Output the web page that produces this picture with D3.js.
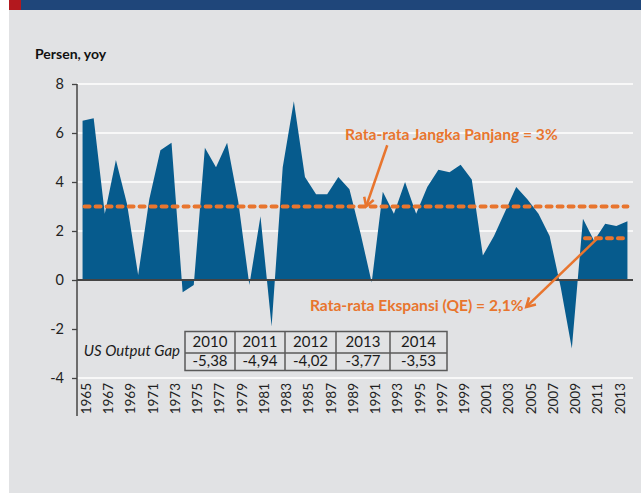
<!DOCTYPE html>
<html>
<head>
<meta charset="utf-8">
<script src="https://cdn.jsdelivr.net/npm/d3@7"></script>
<style>
    body { margin: 0; background: #fff; }
    svg { display: block; font-family: Lato, "Open Sans", sans-serif; }
</style>
</head>
<body>
<div id="chart"></div>
<script>
// US real GDP growth, yoy (%)
const years = d3.range(1965, 2015);
const growth = [
    6.5, 6.6, 2.7, 4.9, 3.1, 0.2, 3.3, 5.3, 5.6, -0.5,
    -0.2, 5.4, 4.6, 5.6, 3.2, -0.2, 2.6, -1.9, 4.6, 7.3,
    4.2, 3.5, 3.5, 4.2, 3.7, 1.9, -0.1, 3.6, 2.7, 4.0,
    2.7, 3.8, 4.5, 4.4, 4.7, 4.1, 1.0, 1.8, 2.8, 3.8,
    3.3, 2.7, 1.8, -0.3, -2.8, 2.5, 1.6, 2.3, 2.2, 2.4
];
const yTicks = [-4, -2, 0, 2, 4, 6, 8];
const gridTicks = [2, 4, 6, 8, -4];
const xTickYears = d3.range(1965, 2015, 2);

// averages
const longRunAvg = 3;
const longRunLabel = 'Rata-rata Jangka Panjang = 3%';
const qeLevel = 1.7;          // level the QE average line is drawn at
const qeYears = [2010, 2014];
const qeLabel = 'Rata-rata Ekspansi (QE) = 2,1%';

// output gap table
const gapYears = ['2010', '2011', '2012', '2013', '2014'];
const gapValues = ['-5,38', '-4,94', '-4,02', '-3,77', '-3,53'];
const gapTitle = 'US Output Gap';

const width = 641, height = 493;
const plot = { left: 77, right: 633, top: 84, bottom: 378 };
const blue = '#065b8d', orange = '#e8752e', axisGrey = '#444';

const svg = d3.select('#chart').append('svg')
    .attr('width', width)
    .attr('height', height);

// frame
svg.append('rect').attr('x', 9).attr('y', 10).attr('width', width - 9).attr('height', height - 10).attr('fill', '#e1e2e4');
svg.append('rect').attr('x', 21).attr('y', 0).attr('width', width - 21).attr('height', 10).attr('fill', '#1f467a');
svg.append('rect').attr('x', 9).attr('y', 0).attr('width', 12).attr('height', 10).attr('fill', '#b3181e');

// scales
const x = d3.scaleLinear().domain([years[0] - 0.5, years[years.length - 1] + 0.5]).range([plot.left, plot.right]);
const y = d3.scaleLinear().domain([-4, 8]).range([plot.bottom, plot.top]);

// gridlines
svg.append('g').selectAll('line')
    .data(gridTicks)
    .join('line')
    .attr('x1', plot.left).attr('x2', plot.right)
    .attr('y1', d => y(d)).attr('y2', d => y(d))
    .attr('stroke', '#fff')
    .attr('stroke-width', 1.6);

// area
const area = d3.area()
    .x((d, i) => x(years[i]))
    .y0(y(0))
    .y1(d => y(d));
svg.append('path')
    .datum(growth)
    .attr('d', area)
    .attr('fill', blue);

// zero line
svg.append('line')
    .attr('x1', plot.left).attr('x2', plot.right)
    .attr('y1', y(0)).attr('y2', y(0))
    .attr('stroke', axisGrey).attr('stroke-width', 2);

// y axis
const yAxis = svg.append('g')
    .attr('transform', `translate(${plot.left},0)`)
    .call(d3.axisLeft(y).tickValues(yTicks).tickSize(5).tickPadding(8).tickFormat(d => d));
yAxis.select('.domain').remove();
yAxis.selectAll('.tick line').attr('stroke', axisGrey).attr('stroke-width', 1.3);
yAxis.selectAll('.tick text')
    .attr('font-family', 'Lato, sans-serif')
    .attr('font-size', 14.5)
    .attr('fill', '#222');
svg.append('line')
    .attr('x1', plot.left).attr('x2', plot.left)
    .attr('y1', plot.top).attr('y2', 416)
    .attr('stroke', axisGrey).attr('stroke-width', 1.5);

// x labels (rotated)
svg.append('g').selectAll('text')
    .data(xTickYears)
    .join('text')
    .attr('transform', d => `translate(${x(d) + 3.5},383) rotate(-90)`)
    .attr('dy', '0.36em')
    .attr('text-anchor', 'end')
    .attr('font-size', 13.5)
    .attr('fill', '#222')
    .text(d => d);

// y title
svg.append('text')
    .attr('x', 35).attr('y', 59)
    .attr('font-size', 14)
    .attr('font-weight', 'bold')
    .attr('fill', '#111')
    .text('Persen, yoy');

// average lines
const avgLines = [
    { y0: longRunAvg, from: years[0], to: years[years.length - 1] },
    { y0: qeLevel, from: qeYears[0], to: qeYears[1] }
];
svg.append('g').selectAll('line')
    .data(avgLines)
    .join('line')
    .attr('x1', d => x(d.from) + 2).attr('x2', d => x(d.to))
    .attr('y1', d => y(d.y0)).attr('y2', d => y(d.y0))
    .attr('stroke', orange)
    .attr('stroke-width', 4)
    .attr('stroke-dasharray', '5 6')
    .attr('stroke-linecap', 'round');

// annotations (positions in data coords: [year, value])
const notes = [
    { text: longRunLabel, at: [1988.6, 5.72], from: [1992.4, 5.5], to: [1990.5, 3.0] },
    { text: qeLabel, at: [1985.45, -1.27], from: [2011.3, 1.7], to: [2004.9, -1.1] }
];
notes.forEach(n => {
    svg.append('text')
        .attr('x', x(n.at[0])).attr('y', y(n.at[1]))
        .attr('font-size', 15.6)
        .attr('font-weight', 'bold')
        .attr('fill', orange)
        .text(n.text);

    const x1 = x(n.from[0]), y1 = y(n.from[1]);
    const x2 = x(n.to[0]), y2 = y(n.to[1]);
    const ang = Math.atan2(y2 - y1, x2 - x1);
    const head = 10, spread = Math.PI / 6;
    svg.append('line')
        .attr('x1', x1).attr('y1', y1).attr('x2', x2).attr('y2', y2)
        .attr('stroke', orange).attr('stroke-width', 2.5);
    svg.append('path')
        .attr('d', `M${x2 - head * Math.cos(ang - spread)},${y2 - head * Math.sin(ang - spread)}` +
            `L${x2},${y2}` +
            `L${x2 - head * Math.cos(ang + spread)},${y2 - head * Math.sin(ang + spread)}`)
        .attr('fill', 'none')
        .attr('stroke', orange)
        .attr('stroke-width', 2.5)
        .attr('stroke-linejoin', 'miter');
});

// output gap table
const table = { left: 185, top: 331.5, colW: [50, 50, 51, 54, 57], rowH: [21.5, 17.5] };
const colX = [table.left];
table.colW.forEach(w => colX.push(colX[colX.length - 1] + w));
const tableRight = colX[colX.length - 1];
const tableBottom = table.top + table.rowH[0] + table.rowH[1];
const tg = svg.append('g');

tg.append('rect')
    .attr('x', table.left).attr('y', table.top)
    .attr('width', tableRight - table.left).attr('height', tableBottom - table.top)
    .attr('fill', 'none').attr('stroke', '#5a5a5a').attr('stroke-width', 1.5);
tg.append('line')
    .attr('x1', table.left).attr('x2', tableRight)
    .attr('y1', table.top + table.rowH[0]).attr('y2', table.top + table.rowH[0])
    .attr('stroke', '#5a5a5a').attr('stroke-width', 1.5);
tg.selectAll('.col-div')
    .data(colX.slice(1, -1))
    .join('line')
    .attr('class', 'col-div')
    .attr('x1', d => d).attr('x2', d => d)
    .attr('y1', table.top).attr('y2', tableBottom)
    .attr('stroke', '#5a5a5a').attr('stroke-width', 1.5);

[gapYears, gapValues].forEach((row, r) => {
    const baseline = r === 0 ? table.top + 15.5 : table.top + table.rowH[0] + 12.5;
    tg.selectAll(`.cell-${r}`)
        .data(row)
        .join('text')
        .attr('class', `cell-${r}`)
        .attr('x', (d, i) => (colX[i] + colX[i + 1]) / 2)
        .attr('y', baseline)
        .attr('text-anchor', 'middle')
        .attr('font-size', 15)
        .attr('fill', '#1a1a1a')
        .text(d => d);
});

tg.append('text')
    .attr('x', table.left - 5).attr('y', 356)
    .attr('text-anchor', 'end')
    .attr('font-size', 15)
    .attr('font-style', 'italic')
    .attr('fill', '#1a1a1a')
    .text(gapTitle);
</script>
</body>
</html>
